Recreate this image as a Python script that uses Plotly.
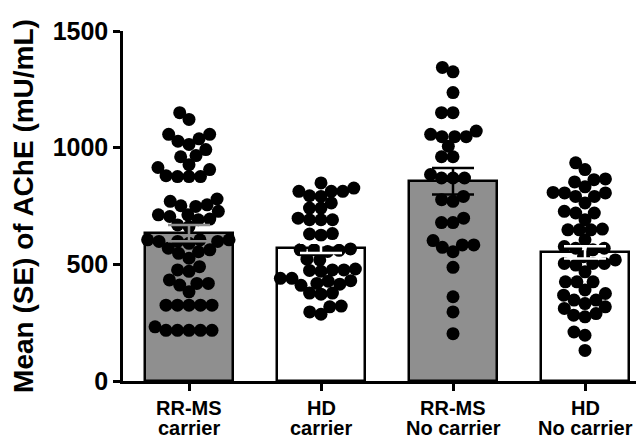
import math
import plotly.graph_objects as go

# ---------------- data ----------------
categories = ["RR-MS carrier", "HD carrier", "RR-MS No carrier", "HD No carrier"]
label_line1 = ["RR-MS", "HD", "RR-MS", "HD"]
label_line2 = ["carrier", "carrier", "No carrier", "No carrier"]

mean_values = [634, 571, 856, 551]
se_values = [35, 22, 57, 26]

rrms_carrier = [1150, 1121, 1057, 1038, 1014, 992, 1028, 1057, 961, 966,
                927, 906, 880, 876, 876, 876, 915,
                770, 751, 748, 755, 780,
                712, 705, 694, 669, 662, 691, 712, 727,
                605, 598, 590, 605, 598, 598, 605,
                554, 547, 526, 562, 569,
                476, 490, 470,
                418, 433, 418, 411, 382,
                325, 325, 325, 325, 325,
                217, 217, 217, 232, 217, 217]
hd_carrier = [849, 827, 813, 813, 813, 794, 791,
              741, 741, 763,
              691, 698, 691, 691,
              630, 625, 632,
              562, 566, 555, 562, 560,
              519, 522,
              476, 470, 480, 476, 474,
              440, 430, 418, 410, 415, 428, 440,
              377, 372, 377,
              318, 286, 296, 321]
rrms_nocarrier = [1344, 1325, 1236, 1150, 1150, 1071, 1057, 1047, 1047, 1047,
                  1006, 961, 961, 885, 870, 870, 870, 791, 777, 770,
                  698, 679, 679, 602, 583, 583, 573, 554, 487, 361, 296, 203]
hd_nocarrier = [935, 906, 866, 832, 853, 863,
                806, 791, 763, 727, 720, 720,
                791, 806, 808,
                691,
                651, 648, 648, 648,
                605,
                569, 562, 569, 576,
                533, 519, 504, 504, 504, 497,
                468,
                425, 425, 425,
                375, 390,
                347, 332, 311, 282, 275, 289, 318, 347, 368,
                210, 196, 131]
groups = [rrms_carrier, hd_carrier, rrms_nocarrier, hd_nocarrier]

bar_colors = ["#8f8f8f", "#ffffff", "#8f8f8f", "#ffffff"]
err_colors = ["#8f8f8f", "#ffffff", "#000000", "#ffffff"]

# ---------------- layout geometry ----------------
# (the page body has an 8px default margin, so the figure is sized to fit)
W, H = 636, 431
ML, MR, MT, MB = 115, 0, 23, 58
Y_MAX = 1500
X_RANGE = [-0.5, 3.447]
px_per_y = (H - MT - MB) / Y_MAX
px_per_x = (W - ML - MR) / (X_RANGE[1] - X_RANGE[0])
DOT = 13


def swarm_offsets(vals, dist):
    ys = [v * px_per_y for v in vals]
    order = sorted(range(len(vals)), key=lambda i: vals[i])
    placed = []
    xs = [0.0] * len(vals)
    for i in order:
        y = ys[i]
        cands = [0.0]
        for (qx, qy) in placed:
            dy = abs(y - qy)
            if dy < dist:
                dx = math.sqrt(dist * dist - dy * dy)
                cands += [qx + dx, qx - dx]
        cands.sort(key=lambda c: (abs(c), c))
        for c in cands:
            if all((c - qx) ** 2 + (y - qy) ** 2 >= dist * dist - 1e-6 for qx, qy in placed):
                xs[i] = c
                break
        placed.append((xs[i], y))
    return [x / px_per_x for x in xs]


fig = go.Figure()

fig.add_trace(go.Bar(
    x=list(range(len(categories))), y=mean_values, width=0.66,
    marker=dict(color=bar_colors, line=dict(color="black", width=2.5)),
    showlegend=False, hoverinfo="skip"))

for gi, vals in enumerate(groups):
    offs = swarm_offsets(vals, 11.5)
    fig.add_trace(go.Scatter(
        x=[gi + o for o in offs], y=vals, mode="markers",
        marker=dict(color="black", size=DOT, line=dict(width=0)),
        showlegend=False, cliponaxis=False))

for gi in range(len(categories)):
    fig.add_trace(go.Scatter(
        x=[gi], y=[mean_values[gi]], mode="markers",
        marker=dict(size=0.1, color="rgba(0,0,0,0)"),
        error_y=dict(type="data", array=[se_values[gi]], color=err_colors[gi],
                     thickness=2.5, width=21),
        showlegend=False, hoverinfo="skip"))

FONT = "Liberation Sans, Arial, sans-serif"
for gi in range(len(categories)):
    fig.add_annotation(x=gi, y=0, xref="x", yref="paper", yanchor="middle",
                       yshift=-27, text=label_line1[gi], showarrow=False,
                       font=dict(family=FONT, size=20, color="black", weight="bold"))
    fig.add_annotation(x=gi, y=0, xref="x", yref="paper", yanchor="middle",
                       yshift=-47, text=label_line2[gi], showarrow=False,
                       font=dict(family=FONT, size=20, color="black", weight="bold"))

fig.update_layout(
    width=W, height=H,
    margin=dict(l=ML, r=MR, t=MT, b=MB, pad=0),
    plot_bgcolor="white", paper_bgcolor="white",
    font=dict(family=FONT, color="black"),
    bargap=0,
    xaxis=dict(range=X_RANGE, tickvals=list(range(len(categories))),
               showticklabels=False, ticks="outside", ticklen=7, tickwidth=2.5,
               tickcolor="black", showline=True, linecolor="black", linewidth=2.5,
               showgrid=False, zeroline=False, fixedrange=True),
    yaxis=dict(range=[0, Y_MAX], tickvals=[0, 500, 1000, 1500],
               ticks="outside", ticklen=7, tickwidth=2.5, tickcolor="black",
               tickfont=dict(family=FONT, size=25, color="black", weight="bold"),
               showline=True, linecolor="black", linewidth=2.5,
               showgrid=False, zeroline=False,
               title=dict(text="Mean (SE) of AChE (mU/mL)", standoff=11,
                          font=dict(family=FONT, size=28, color="black", weight="bold"))),
)

fig.write_html("out.html")
